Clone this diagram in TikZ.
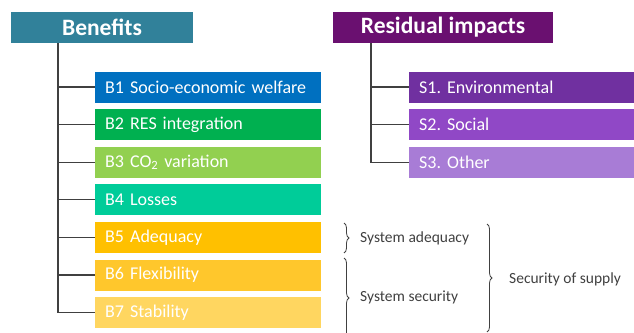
\documentclass[tikz,border=0pt]{standalone}
\usepackage{fontspec}
\setmainfont{Carlito}
\frenchspacing
\usetikzlibrary{decorations.pathreplacing}

\definecolor{benhead}{HTML}{31819A}
\definecolor{reshead}{HTML}{6A1070}
\definecolor{bone}{HTML}{0070C0}
\definecolor{btwo}{HTML}{00B050}
\definecolor{bthree}{HTML}{92D050}
\definecolor{bfour}{HTML}{00CC99}
\definecolor{bfive}{HTML}{FFC000}
\definecolor{bsix}{HTML}{FFC72C}
\definecolor{bseven}{HTML}{FFD660}
\definecolor{sone}{HTML}{7030A0}
\definecolor{stwo}{HTML}{9048C6}
\definecolor{sthree}{HTML}{A87CD6}
\definecolor{linegray}{HTML}{404040}

\begin{document}
\begin{tikzpicture}[x=1pt, y=-1pt]
      \tikzstyle{every node}=[inner sep=0pt]
      \tikzstyle{head}=[minimum height=31pt, text=white,
        font=\fontsize{23.5}{23.5}\selectfont\bfseries]
      \tikzstyle{item}=[anchor=west, minimum height=31pt, inner xsep=10pt,
        text width=206pt, align=left, text=white,
        font=\fontsize{18}{18}\selectfont]
      \tikzstyle{brlabel}=[anchor=west, text=linegray,
        font=\fontsize{15.5}{15.5}\selectfont]
      \tikzstyle{conn}=[draw=linegray, line width=1.2pt]
      \tikzstyle{br}=[draw=linegray, line width=0.8pt, decorate,
        decoration={brace, amplitude=5pt}]

      \useasboundingbox (0,0) rectangle (634,332);

      \path (102,27.5) node[head, fill=benhead, minimum width=182pt] (ben) {Benefits};
      \path (443,27.5) node[head, fill=reshead, minimum width=220pt] (res) {Residual impacts};

      \foreach \i/\c/\t in {1/bone/B1 Socio-economic welfare,
        2/btwo/B2 RES integration,
        3/bthree/B3 CO\textsubscript{2} variation,
        4/bfour/B4 Losses,
        5/bfive/B5 Adequacy,
        6/bsix/B6 Flexibility,
        7/bseven/B7 Stability}
      {
        \path (95, 87+\i*37.6-37.6) node[item, fill=\c] (b\i) {\t};
      }

      \foreach \j/\c/\t in {1/sone/S1. Environmental,
        2/stwo/S2. Social,
        3/sthree/S3. Other}
      {
        \path (409, 87+\j*37.6-37.6) node[item, fill=\c] (s\j) {\t};
      }

      \path (58,43) coordinate (bj);
      \path (371,43) coordinate (sj);

      \draw [conn] (bj) |- (b7.west);
      \foreach \i in {1, ..., 6}
      {
        \draw [conn] (bj |- b\i.west) -- (b\i.west);
      }

      \draw [conn] (sj) |- (s3.west);
      \foreach \j in {1, 2}
      {
        \draw [conn] (sj |- s\j.west) -- (s\j.west);
      }

      \path (360,238) node[brlabel] (adq) {System adequacy};
      \path (360,297) node[brlabel] (sec) {System security};
      \path (509,279) node[brlabel] (sos) {Security of supply};

      \path
        (344,223) coordinate (adq1)
        (344,253) coordinate (adq2)
        (344,258) coordinate (sec1)
        (344,338) coordinate (sec2)
        (487,224) coordinate (sos1)
        (487,332) coordinate (sos2);

      \draw [br] (adq1) -- (adq2);
      \draw [br] (sec1) -- (sec2);
      \draw [br] (sos1) -- (sos2);
    \end{tikzpicture}
\end{document}
